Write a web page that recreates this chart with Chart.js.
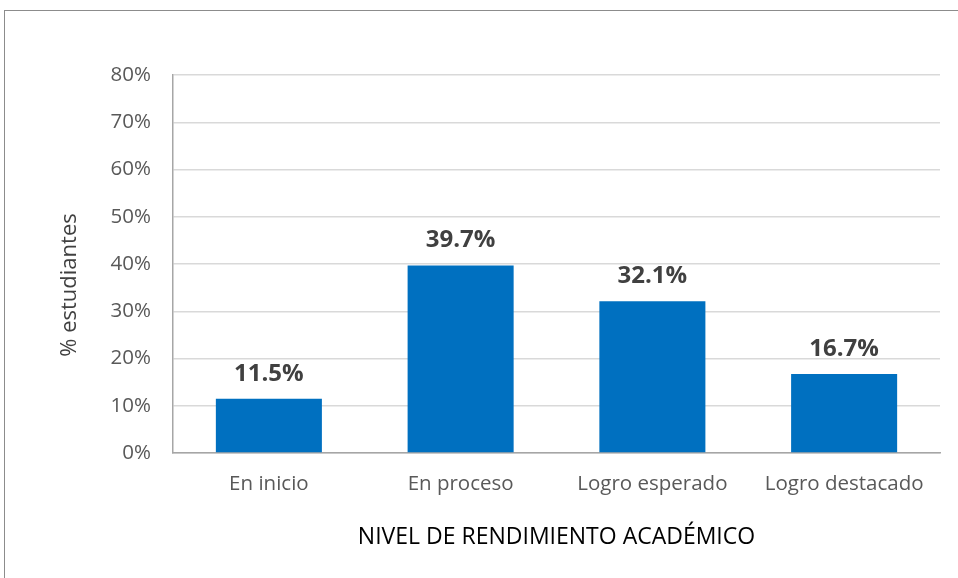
<!DOCTYPE html>
<html>
<head>
<meta charset="utf-8">
<script src="https://cdn.jsdelivr.net/npm/chart.js@4"></script>
<style>
  html, body { margin: 0; padding: 0; background: #fff; overflow: hidden; }
  #wrap { position: relative; width: 958px; height: 578px; }
  #frame { position: absolute; left: 4px; top: 10px; width: 1000px; height: 1000px;
           border: 1px solid #8c8c8c; pointer-events: none; }
  canvas { position: absolute; left: 0; top: 0; }
</style>
</head>
<body>
<div id="wrap">
  <canvas id="chart" width="958" height="578"></canvas>
  <div id="frame"></div>
</div>
<script>
// chart data
const niveles = ["En inicio", "En proceso", "Logro esperado", "Logro destacado"];
const porcentajes = [11.5, 39.7, 32.1, 16.7];
const yTicks = [0, 10, 20, 30, 40, 50, 60, 70, 80];
const yTitle = "% estudiantes";

const baseFont = "'Open Sans', sans-serif";

// value labels above the bars + y axis title (sits a bit below centre in the original)
const extraText = {
    id: 'extraText',
    afterDatasetsDraw(chart) {
        let ctx = chart.ctx;
        let meta = chart.getDatasetMeta(0);
        ctx.save();
        ctx.font = "bold 24px " + baseFont;
        ctx.fillStyle = "#404040";
        ctx.textAlign = "center";
        ctx.textBaseline = "bottom";
        meta.data.forEach((bar, i) => {
            ctx.fillText(porcentajes[i].toFixed(1) + "%", bar.x, bar.y - 13);
        });

        let area = chart.chartArea;
        ctx.translate(70, (area.top + area.bottom) / 2 + 21);
        ctx.rotate(-Math.PI / 2);
        ctx.font = "22px " + baseFont;
        ctx.textBaseline = "middle";
        ctx.fillText(yTitle, 0, 0);
        ctx.restore();
    }
};

new Chart(document.getElementById("chart"), {
    type: 'bar',
    data: {
        labels: niveles,
        datasets: [{
            data: porcentajes,
            backgroundColor: '#0070C0',
            barPercentage: 0.553,
            categoryPercentage: 1
        }]
    },
    options: {
        responsive: false,
        animation: false,
        layout: { padding: { top: 75, right: 18, left: 0, bottom: 0 } },
        plugins: {
            legend: { display: false },
            tooltip: { enabled: false }
        },
        scales: {
            x: {
                afterFit(scale) { scale.height = 125; },
                grid: { display: false, drawTicks: false },
                border: { color: '#a6a6a6', width: 1.5 },
                ticks: { color: '#595959', font: { family: baseFont, size: 20.5 }, padding: 19 },
                title: {
                    display: true,
                    text: 'NIVEL DE RENDIMIENTO ACADÉMICO',
                    color: '#000',
                    font: { family: baseFont, size: 23 },
                    padding: { top: 0, bottom: 27 }
                }
            },
            y: {
                min: 0,
                max: 80,
                afterFit(scale) { scale.width = 173; },
                afterBuildTicks(scale) { scale.ticks = yTicks.map(v => ({ value: v })); },
                grid: { color: '#d9d9d9', lineWidth: 1.5, drawTicks: false },
                border: { color: '#a6a6a6', width: 1.5 },
                ticks: {
                    color: '#595959',
                    font: { family: baseFont, size: 20.5 },
                    padding: 22,
                    callback: v => v + '%'
                }
            }
        }
    },
    plugins: [extraText]
});
</script>
</body>
</html>
